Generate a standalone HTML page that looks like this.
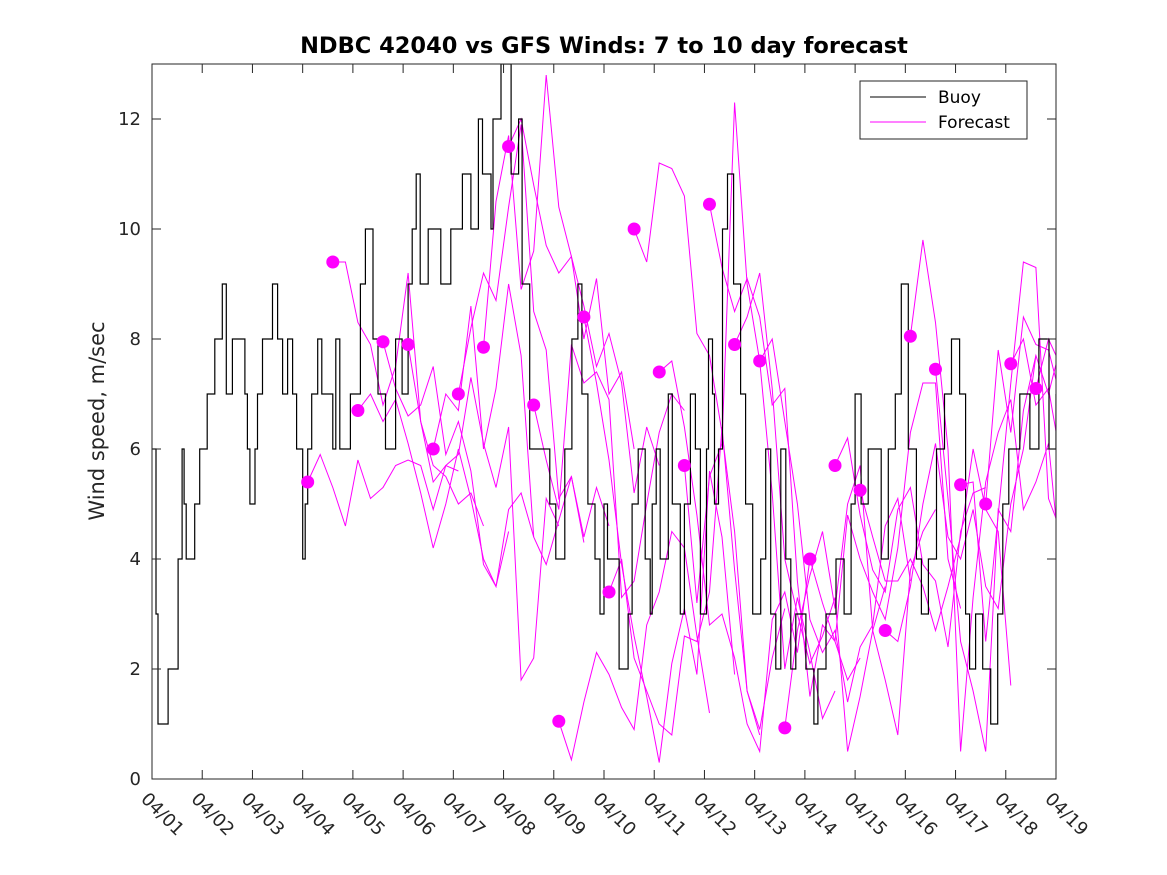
<!DOCTYPE html>
<html><head><meta charset="utf-8"><style>
body{margin:0;background:#fff;}
svg{display:block;font-family:"DejaVu Sans","Liberation Sans",sans-serif;}
</style></head><body>
<svg id="chart" width="1167" height="875" viewBox="0 0 1167 875">
<rect width="1167" height="875" fill="#fff"/>
<text x="604" y="53" text-anchor="middle" font-size="22.5" font-weight="bold">NDBC 42040 vs GFS Winds: 7 to 10 day forecast</text>
<text transform="translate(104,421) rotate(-90)" text-anchor="middle" font-size="21" fill="#262626">Wind speed, m/sec</text>
<g id="axes"></g>
<g id="marks"></g>
<g id="frame"></g>
<g>
<rect x="860" y="81" width="167" height="58" fill="#fff" stroke="#262626" stroke-width="1"/>
<line x1="870" y1="97" x2="926" y2="97" stroke="#000" stroke-width="1"/>
<text x="938" y="103" font-size="17" fill="#000">Buoy</text>
<line x1="870" y1="122" x2="926" y2="122" stroke="#f0f" stroke-width="1"/>
<text x="938" y="128" font-size="17" fill="#000">Forecast</text>
</g>
</svg>
<script>
const xTickLabels=["04/01","04/02","04/03","04/04","04/05","04/06","04/07","04/08","04/09","04/10","04/11","04/12","04/13","04/14","04/15","04/16","04/17","04/18","04/19"];
const yTicks=[0,2,4,6,8,10,12];
const buoyDays=[0,0.08,0.12,0.32,0.52,0.6,0.64,0.68,0.85,0.95,1.1,1.25,1.4,1.48,1.6,1.85,1.9,1.95,2.05,2.1,2.2,2.4,2.5,2.6,2.7,2.8,2.88,3.0,3.05,3.1,3.18,3.3,3.38,3.6,3.66,3.74,3.95,4.15,4.25,4.4,4.5,4.65,4.85,4.98,5.1,5.18,5.26,5.34,5.5,5.75,5.95,6.18,6.35,6.5,6.58,6.75,6.79,6.95,7.15,7.3,7.37,7.52,7.92,8.04,8.22,8.36,8.48,8.56,8.68,8.82,8.92,9.0,9.07,9.3,9.48,9.56,9.68,9.82,9.92,9.96,10.04,10.12,10.28,10.36,10.52,10.6,10.72,10.82,10.92,11.04,11.08,11.16,11.2,11.28,11.36,11.46,11.58,11.72,11.82,11.96,12.12,12.22,12.32,12.42,12.52,12.62,12.72,12.82,13.02,13.18,13.26,13.42,13.62,13.78,13.92,14.0,14.12,14.26,14.52,14.66,14.8,14.92,15.06,15.22,15.32,15.46,15.62,15.78,15.92,16.08,16.2,16.28,16.4,16.54,16.7,16.84,16.94,17.06,17.28,17.48,17.66,17.86,18.0];
const buoyVals=[6,3,1,2,4,6,5,4,5,6,7,8,9,7,8,7,6,5,6,7,8,9,8,7,8,7,6,4,5,6,7,8,7,6,8,6,7,9,10,8,7,6,8,7,9,10,11,9,10,9,10,11,10,12,11,10,12,13,11,12,9,6,5,4,6,8,9,7,5,4,3,5,4,2,3,5,6,4,3,5,6,4,7,5,3,5,7,6,3,6,8,7,5,6,10,11,9,7,5,3,4,6,3,2,6,4,2,3,2,1,2,3,4,3,5,7,5,6,4,6,7,9,6,4,3,4,6,7,8,7,3,2,3,2,1,3,5,6,7,6,8,6,7,6,5,6,7];
const fcStart=[3.1,3.6,4.1,4.6,5.1,5.6,6.1,6.6,7.1,7.6,8.1,8.6,9.1,9.6,10.1,10.6,11.1,11.6,12.1,12.6,13.1,13.6,14.1,14.6,15.1,15.6,16.1,16.6,17.1,17.6];
const fc0=[5.4,5.9,5.3,4.6,5.8,5.1,5.3,5.7,5.8,5.7,4.9,5.7,5.6];
const fc1=[9.4,9.4,8.3,7.9,6.8,7.5,9.2,6.5,5.7,5.5,5.0,5.2,4.6];
const fc2=[6.7,7.0,6.5,6.9,6.1,5.2,4.2,5.0,6.0,5.1,4.0,3.5,4.5];
const fc3=[7.95,7.1,6.6,6.8,7.5,5.9,6.5,5.6,3.9,3.5,4.9,5.2,4.4];
const fc4=[7.9,6.5,5.4,5.7,5.9,7.3,6.1,5.3,6.4,1.8,2.2,5.1,4.6];
const fc5=[6.0,7.0,6.7,8.6,6.0,7.1,9.0,7.7,4.4,3.9,4.7,5.5,4.3];
const fc6=[7.0,8.2,9.2,8.7,10.4,11.9,8.5,7.8,5.1,5.5,4.4,5.3,4.6];
const fc7=[7.85,10.5,11.7,8.9,9.6,12.8,10.4,9.5,8.0,9.1,7.0,7.4,6.0];
const fc8=[11.5,12.0,10.8,9.7,9.2,9.5,8.6,7.5,8.1,7.2,5.2,6.4,5.7];
const fc9=[6.8,5.8,4.9,7.9,7.2,7.4,6.9,3.3,3.6,5.0,6.3,7.0,6.7];
const fc10=[1.05,0.35,1.4,2.3,1.9,1.3,0.9,2.8,3.4,4.5,4.2,2.6,1.2];
const fc11=[8.4,7.2,5.8,3.9,2.6,1.5,0.3,2.1,3.1,1.9,5.6,4.4,1.9];
const fc12=[3.4,4.0,2.2,1.6,1.0,0.8,2.6,2.5,3.4,6.4,3.8,1.6,0.8];
const fc13=[10.0,9.4,11.2,11.1,10.6,8.1,7.7,6.3,4.5,1.6,0.9,2.2,3.1];
const fc14=[7.4,7.6,6.4,4.8,2.8,3.0,2.2,1.0,0.5,2.9,3.4,2.3,4.0];
const fc15=[5.7,3.2,5.5,6.1,12.3,9.0,7.6,5.2,2.0,3.3,2.3,1.1,1.6];
const fc16=[10.45,9.3,8.5,9.1,8.4,6.8,7.1,3.6,1.5,2.8,2.5,1.8,2.2];
const fc17=[7.9,8.4,9.2,7.1,4.0,3.0,2.1,2.6,3.3,0.5,1.5,2.7,3.5];
const fc18=[7.6,8.0,6.5,5.0,2.9,2.3,2.7,1.4,2.4,2.8,4.6,5.1,3.6];
const fc19=[0.93,2.7,3.7,4.5,3.1,5.0,5.7,2.7,1.8,0.8,3.8,4.5,4.9];
const fc20=[4.0,3.2,2.5,4.8,4.0,3.4,2.9,4.2,6.3,7.2,7.2,4.0,3.1];
const fc21=[5.7,6.2,4.8,3.8,3.4,4.9,5.3,3.9,3.6,2.4,4.5,5.2,5.3];
const fc22=[5.25,4.4,3.6,3.6,4.0,3.5,2.7,3.5,4.4,6.0,4.9,4.5,1.7];
const fc23=[2.7,2.5,3.5,5.0,6.1,4.4,4.0,4.9,3.5,3.1,5.0,6.0,7.7];
const fc24=[8.05,9.8,8.3,6.0,0.5,3.3,5.4,6.3,6.9,4.9,5.4,6.1,3.8];
const fc25=[7.45,5.1,2.5,1.6,0.5,4.9,4.5,6.7,7.7,7.0,7.9,6.5,5.9];
const fc26=[5.35,5.4,2.5,4.8,7.2,9.4,9.3,5.1,4.5,3.6,4.9,6.1,4.3];
const fc27=[5.0,7.8,6.3,8.4,7.9,7.8,6.9,7.3,6.1,5.6,4.2];
const fc28=[7.55,8.0,6.8,7.1,5.8,7.6,6.5,4.9];
const fc29=[7.1,8.0,7.5,5.1,4.2];
const fcVals=[fc0,fc1,fc2,fc3,fc4,fc5,fc6,fc7,fc8,fc9,fc10,fc11,fc12,fc13,fc14,fc15,fc16,fc17,fc18,fc19,fc20,fc21,fc22,fc23,fc24,fc25,fc26,fc27,fc28,fc29];

const L=152,R=1056,T=64,B=779,XMAX=18,YMAX=13;
const xs=d=>L+(R-L)*d/XMAX;
const ys=v=>B-(B-T)*v/YMAX;
const NS="http://www.w3.org/2000/svg";
function mk(tag,attrs,parent){const e=document.createElementNS(NS,tag);for(const k in attrs)e.setAttribute(k,attrs[k]);parent.appendChild(e);return e;}
const axes=document.getElementById('axes'),marks=document.getElementById('marks'),frame=document.getElementById('frame');

xTickLabels.forEach((lab,i)=>{
  const x=xs(i);
  const t1=mk('line',{x1:x,y1:B,x2:x,y2:B-9,stroke:'#262626'},frame);
  
  
  const t2=mk('line',{x1:x,y1:T,x2:x,y2:T+9,stroke:'#262626'},frame);
  
  
  const tx=mk('text',{transform:`translate(${x-12},${B+21}) rotate(45)`,'font-size':'18',fill:'#262626'},axes);
  tx.textContent=lab;
  
  
});
yTicks.forEach(v=>{
  const y=ys(v);
  const t1=mk('line',{x1:L,y1:y,x2:L+9,y2:y,stroke:'#262626'},frame);
  
  
  const t2=mk('line',{x1:R,y1:y,x2:R-9,y2:y,stroke:'#262626'},frame);
  
  
  const tx=mk('text',{x:L-11,y:y+6,'text-anchor':'end','font-size':'18',fill:'#262626'},axes);
  tx.textContent=v;
  
  
});
const box=mk('rect',{x:L,y:T,width:R-L,height:B-T,fill:'none',stroke:'#262626','stroke-width':1},frame);



const defs=mk('defs',{},marks);
const cp=mk('clipPath',{id:'pc'},defs);
mk('rect',{x:L,y:T,width:R-L,height:B-T},cp);
const g=mk('g',{'clip-path':'url(#pc)'},marks);

fcStart.forEach((s,i)=>{
  const vals=fcVals[i];
  const pts=vals.map((v,j)=>xs(s+0.25*j).toFixed(1)+','+ys(v).toFixed(1)).join(' ');
  const pl=mk('polyline',{points:pts,fill:'none',stroke:'#f0f','stroke-width':1},g);
  
  
});

let d='';
buoyDays.forEach((day,i)=>{
  const x=xs(day).toFixed(1),y=ys(buoyVals[i]).toFixed(1);
  if(i===0)d+=`M${x},${y}`;else d+=`H${x}V${y}`;
});
const bp=mk('path',{d:d,fill:'none',stroke:'#000','stroke-width':1.2},g);



fcStart.forEach((s,i)=>{
  const c=mk('circle',{cx:xs(s),cy:ys(fcVals[i][0]),r:6.5,fill:'#f0f'},g);
  
  
});
</script>
</body></html>
